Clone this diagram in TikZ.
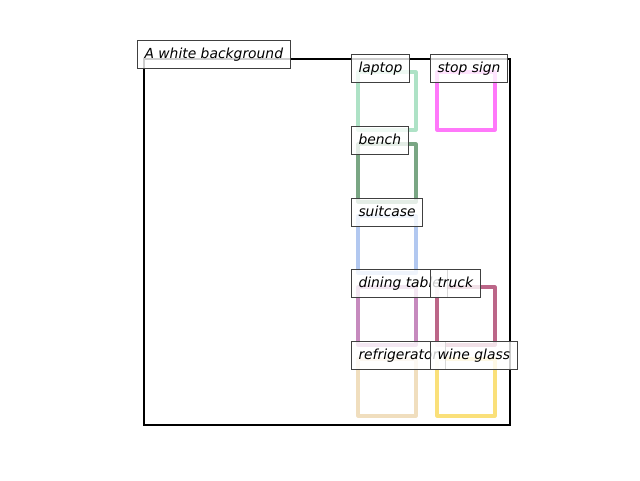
\documentclass[tikz,border=0pt]{standalone}
\usepackage{fontspec}
\setmainfont{DejaVu Sans}
\begin{document}
\begin{tikzpicture}[x=0.75pt,y=-0.75pt]
\tikzset{
  objbox/.style={line width=2.3pt,line join=round},
  lbl/.style={draw=black!75,line width=0.75pt,fill=white,fill opacity=0.8,draw opacity=1,text opacity=1,
    anchor=base west,inner xsep=5.25pt,inner ysep=0pt,text height=13.5pt,text depth=7.5pt,
    font=\fontsize{10.4pt}{12pt}\selectfont\itshape}}
\definecolor{claptop}{RGB}{174,226,198}
\definecolor{cstop}{RGB}{255,120,250}
\definecolor{cbench}{RGB}{122,166,132}
\definecolor{csuit}{RGB}{178,200,240}
\definecolor{cdining}{RGB}{198,138,190}
\definecolor{ctruck}{RGB}{188,102,136}
\definecolor{cfridge}{RGB}{240,222,190}
\definecolor{cwine}{RGB}{250,224,122}
\useasboundingbox (0,0) rectangle (640,480);
\draw[line width=1.6pt] (144,59) rectangle (510,425);
% object boxes
\draw[claptop,objbox] (358,72) rectangle (416,130);
\draw[cstop,objbox] (437,72) rectangle (495,130);
\draw[cbench,objbox] (358,144) rectangle (416,202);
\draw[csuit,objbox] (358,216) rectangle (416,273);
\draw[cdining,objbox] (358,287) rectangle (416,345);
\draw[ctruck,objbox] (437,287) rectangle (495,345);
\draw[cfridge,objbox] (358,359) rectangle (416,416);
\draw[cwine,objbox] (437,359) rectangle (495,416);
% labels
\node[lbl] (bg) at (137,58) {A white background};
\node[lbl] (laptop) at (351,72) {laptop};
\node[lbl] (stop) at (430,72) {stop sign};
\node[lbl] (bench) at (351,144) {bench};
\node[lbl] (suit) at (351,216) {suitcase};
\node[lbl] (dining) at (351,287) {dining table};
\node[lbl] (truck) at (430,287) {truck};
\node[lbl] (fridge) at (351,359) {refrigerator};
\node[lbl] (wine) at (430,359) {wine glass};
\end{tikzpicture}
\end{document}
